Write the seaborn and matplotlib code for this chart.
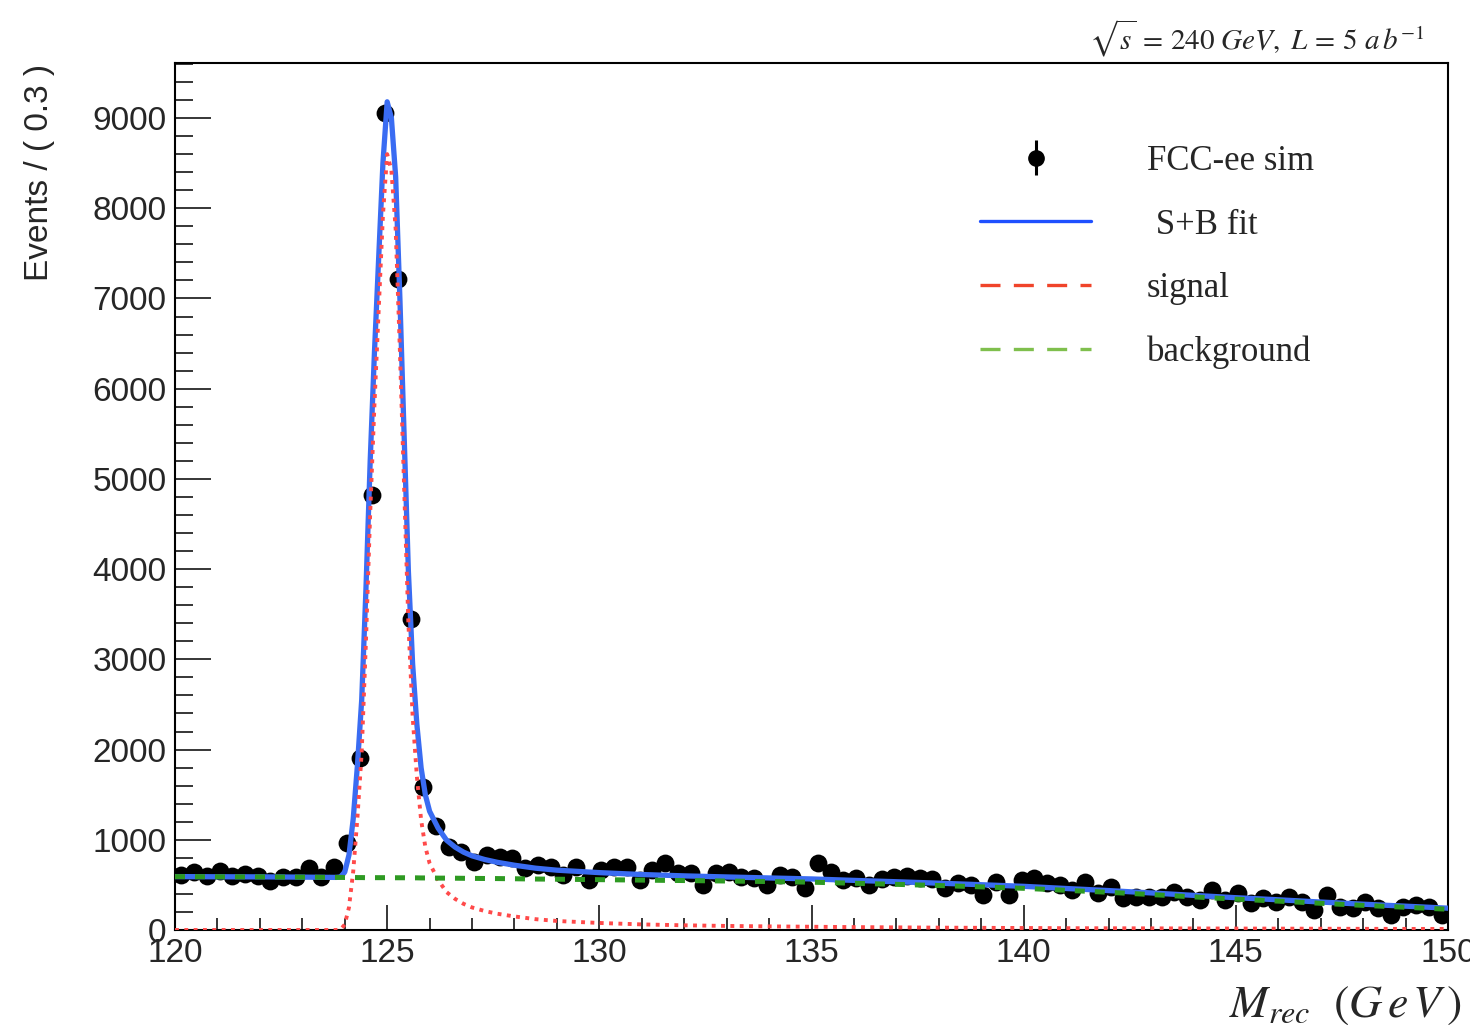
import numpy as np
import pandas as pd
import seaborn as sns
import matplotlib as mpl
import matplotlib.pyplot as plt
from matplotlib.lines import Line2D
from matplotlib.ticker import MultipleLocator

# histogram definition: 100 bins of 0.3 GeV between 120 and 150
mLo, mHi, nBins = 120.0, 150.0, 100

events = [610, 640, 600, 650, 600, 620, 600, 540, 585, 590,
          690, 590, 700, 960, 1906, 4822, 9060, 7216, 3447, 1590,
          1150, 923, 868, 757, 831, 813, 794, 683, 720, 702,
          610, 702, 554, 670, 700, 702, 554, 665, 739, 628,
          628, 499, 628, 646, 591, 573, 499, 610, 591, 462,
          739, 646, 554, 573, 499, 560, 590, 600, 580, 560,
          470, 517, 499, 388, 536, 388, 554, 573, 517, 499,
          443, 536, 406, 480, 351, 369, 369, 369, 425, 369,
          333, 443, 333, 406, 296, 351, 314, 369, 314, 222,
          388, 258, 240, 314, 240, 166, 258, 277, 258, 166]

# fitted curves
curveX = [120, 121, 122, 123, 123.5, 123.8, 123.9, 124.0, 124.1, 124.2,
          124.3, 124.4, 124.5, 124.6, 124.7, 124.8, 124.9, 125.0, 125.1, 125.2,
          125.3, 125.4, 125.5, 125.6, 125.7, 125.8, 125.9, 126.0, 126.2, 126.4,
          126.6, 126.8, 127.0, 127.3, 127.6, 128.0, 128.5, 129, 130, 131,
          132, 133, 134, 135, 136, 137, 138, 139, 140, 141,
          142, 143, 144, 145, 146, 147, 148, 149, 150]
signalY = [0, 0, 0, 0, 0, 0, 5, 60, 250, 650,
           1250, 1970, 3200, 4620, 5820, 6870, 7920, 8600, 8420, 7770,
           6420, 4900, 3400, 2370, 1700, 1220, 920, 740, 555, 420,
           345, 290, 250, 210, 180, 150, 120, 100, 78, 62,
           52, 45, 40, 36, 32, 29, 26, 24, 22, 20,
           19, 18, 17, 16, 15, 14, 13, 12, 12]
backgroundY = [592, 590, 589, 586, 584, 583, 583, 582, 582, 582,
               581, 581, 580, 580, 580, 580, 580, 580, 579, 579,
               579, 579, 578, 578, 578, 577, 577, 576, 575, 575,
               574, 573, 572, 571, 570, 568, 565, 563, 558, 553,
               548, 543, 537, 530, 518, 506, 493, 478, 462, 440,
               418, 393, 367, 342, 320, 296, 273, 252, 230]
fitY = [592, 590, 589, 586, 584, 583, 588, 642, 832, 1232,
        1831, 2551, 3780, 5200, 6400, 7450, 8500, 9180, 8999, 8349,
        6999, 5479, 3978, 2948, 2278, 1797, 1497, 1316, 1130, 995,
        919, 863, 822, 781, 750, 718, 685, 663, 636, 615,
        600, 588, 577, 566, 550, 535, 519, 502, 484, 460,
        437, 411, 384, 358, 335, 310, 286, 264, 242]

W, H = 1470, 1030

def px2fig(x, y):
    return x / W, 1 - y / H

if __name__ == "__main__":
    sns.set_theme(style='white')
    mpl.rcParams['font.family'] = ['Liberation Sans', 'DejaVu Sans']
    mpl.rcParams['mathtext.fontset'] = 'stix'

    edges = np.linspace(mLo, mHi, nBins + 1)
    data = pd.DataFrame({'mass': 0.5 * (edges[:-1] + edges[1:]), 'events': events})
    curves = pd.DataFrame({'mass': curveX, 'signal': signalY,
                           'background': backgroundY, 'fit': fitY})

    fig = plt.figure(figsize=(W / 100, H / 100), dpi=100)
    ax = fig.add_axes([175 / W, 1 - 930 / H, (1448 - 175) / W, (930 - 63) / H])

    sns.scatterplot(data=data, x='mass', y='events', ax=ax, color='black',
                    s=165, linewidth=0, zorder=2, legend=False)
    sns.lineplot(data=curves, x='mass', y='fit', ax=ax, color='#3a6cf2',
                 lw=3.8, sort=False, estimator=None, zorder=3)
    sns.lineplot(data=curves, x='mass', y='signal', ax=ax, color='#ff4a4a',
                 lw=2.8, ls=(0, (1.0, 1.4)), sort=False, estimator=None, zorder=4)
    sns.lineplot(data=curves, x='mass', y='background', ax=ax, color='#2e9a22',
                 lw=3.6, ls=(0, (2.0, 2.0)), sort=False, estimator=None, zorder=5)

    ax.set_xlim(mLo, mHi)
    ax.set_ylim(0, 9610)
    ax.set_xlabel('')
    ax.set_ylabel('')
    ax.xaxis.set_major_locator(MultipleLocator(5))
    ax.xaxis.set_minor_locator(MultipleLocator(1))
    ax.yaxis.set_major_locator(MultipleLocator(1000))
    ax.yaxis.set_minor_locator(MultipleLocator(200))
    ax.tick_params(axis='x', which='major', direction='in', length=18, width=1.3,
                   labelsize=24, pad=6, bottom=True)
    ax.tick_params(axis='x', which='minor', direction='in', length=9, width=1.3, bottom=True)
    ax.tick_params(axis='y', which='major', direction='in', length=26, width=1.3,
                   labelsize=24, pad=6, left=True)
    ax.tick_params(axis='y', which='minor', direction='in', length=13, width=1.3, left=True)
    for sp in ax.spines.values():
        sp.set_color('black')
        sp.set_linewidth(1.5)

    # legend, ROOT style
    hData = ax.errorbar([np.nan], [np.nan], yerr=[1], fmt='o', color='black',
                        ms=11, elinewidth=2.2, capsize=0)
    handles = [hData,
               Line2D([], [], color='#1f50ff', lw=2.4),
               Line2D([], [], color='#f0442a', lw=2.4, ls=(0, (6, 4))),
               Line2D([], [], color='#7fbf4d', lw=2.4, ls=(0, (6, 4)))]
    labels = ['FCC-ee sim', ' S+B fit', 'signal', 'background']
    leg = ax.legend(handles, labels, loc='upper left', frameon=False,
                    bbox_to_anchor=px2fig(980, 145), bbox_transform=fig.transFigure,
                    borderaxespad=0, borderpad=0, handlelength=3.2, handletextpad=1.6,
                    labelspacing=0.88, prop={'family': 'Liberation Serif', 'size': 25})

    fig.text(*px2fig(40, 64), 'Events / ( 0.3 )', rotation=90, ha='center', va='top',
             fontsize=24)
    fig.text(*px2fig(1462, 1005), r'$M_{rec}\ \ (G\,e\,V\,)$', ha='right', va='center',
             fontsize=33)
    fig.text(*px2fig(1424, 38), r'$\sqrt{s}\,=\,240\ GeV,\ L\,=\,5\ a\,b^{-1}$',
             ha='right', va='center', fontsize=21)

    fig.savefig('out.png', dpi=100)
    plt.close()
